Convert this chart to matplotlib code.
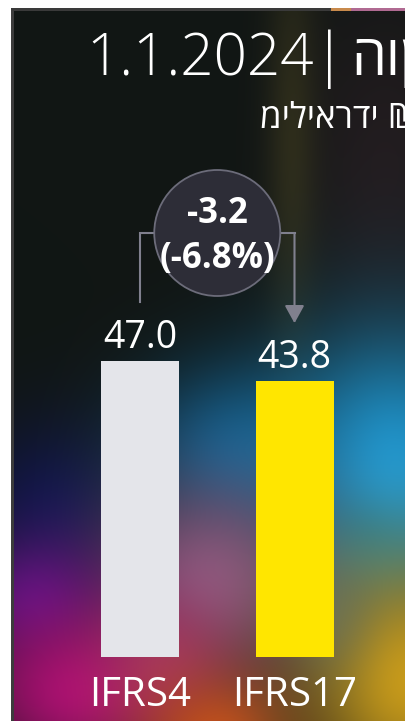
import numpy as np
import matplotlib
matplotlib.use('Agg')
from matplotlib import pyplot as plt
from matplotlib.patches import Ellipse, Rectangle

# data
categories = ['IFRS4', 'IFRS17']
values = [47.0, 43.8]
bar_colors = ['#e4e5ea', '#ffe600']
title_word = 'הון'
title_date = '1.1.2024'
unit_text = 'מיליארדי ₪'

FONT = ['Open Sans', 'DejaVu Sans']
W, H = 405, 721
PX_PER_UNIT = 296 / 47.0


def make_background():
    # blurred colour glow behind the chart (decoration only)
    xs = np.arange(13, W) + 0.5
    ys = np.arange(8, H) + 0.5
    X, Y = np.meshgrid(xs, ys)
    img = np.zeros(X.shape + (3,))
    img[:] = np.array([0x11, 0x16, 0x14]) / 255.0
    blobs = [
        # cx, cy, sx, sy, colour, alpha
        (385, 170, 60, 120, '#2a1f24', 0.7),
        (292, 140, 18, 150, '#3d3a1e', 0.6),
        (50, 510, 55, 60, '#0e1450', 0.85),
        (235, 450, 70, 60, '#0f5f8e', 0.9),
        (395, 470, 80, 100, '#1e96d0', 1.0),
        (360, 545, 40, 30, '#127a90', 0.5),
        (210, 580, 75, 70, '#8e5c82', 0.95),
        (35, 600, 50, 45, '#5a1488', 0.9),
        (80, 690, 80, 60, '#aa0f72', 1.0),
        (160, 660, 45, 45, '#b03c64', 0.7),
        (215, 735, 55, 45, '#c4501c', 0.95),
        (410, 680, 75, 85, '#d0a01a', 0.95),
        (330, 615, 30, 40, '#6c7a62', 0.5),
    ]
    for cx, cy, sx, sy, col, a in blobs:
        c = np.array(matplotlib.colors.to_rgb(col))
        alpha = a * np.exp(-((X - cx) ** 2 / (2 * sx ** 2) + (Y - cy) ** 2 / (2 * sy ** 2)))
        img = img * (1 - alpha[..., None]) + c * alpha[..., None]
    return np.clip(img, 0, 1)


fig = plt.figure(figsize=(W / 100, H / 100), dpi=100)
fig.patch.set_facecolor('white')

bg = fig.add_axes([13 / W, 0, (W - 13) / W, (H - 8) / H])
bg.imshow(make_background(), aspect='auto', interpolation='bilinear')
bg.axis('off')

# panel frame lines
fig.add_artist(Rectangle((11 / W, 0), 3 / W, (H - 8) / H, transform=fig.transFigure,
                         color='#3c3c3c', lw=0))
fig.add_artist(Rectangle((11 / W, (H - 11) / H), 320 / W, 3 / H, transform=fig.transFigure,
                         color='#3a3a3a', lw=0))
fig.add_artist(Rectangle((331 / W, (H - 11) / H), 20 / W, 3 / H, transform=fig.transFigure,
                         color='#c88a4c', lw=0))
fig.add_artist(Rectangle((351 / W, (H - 11) / H), 54 / W, 3 / H, transform=fig.transFigure,
                         color='#b06a92', lw=0))

ax = fig.add_axes([13 / W, 64 / H, (W - 13) / W, (657 - 8) / H])
ax.set_facecolor('none')
ax.set_xlim(-127 / 154.5, (392 - 127) / 154.5)
ax.set_ylim(0, (657 - 8) / PX_PER_UNIT)
ax.axis('off')

x = np.arange(len(categories))
ax.bar(x, values, width=78 / 154.5, color=bar_colors, zorder=3)

for i, v in enumerate(values):
    ax.annotate(f'{v:.1f}', xy=(i, v), xytext=(0, 9.5), textcoords='offset points',
                ha='center', va='baseline', color='white', fontsize=27, family=FONT)
    ax.annotate(categories[i], xy=(i, 0), xytext=(0, -35.3), textcoords='offset points',
                ha='center', va='baseline', color='white', fontsize=29, family=FONT,
                annotation_clip=False)

# change bubble
diff = values[1] - values[0]
pct = diff / values[0] * 100
cy = (657 - 233) / PX_PER_UNIT
rx = 63 / 154.5
ry = 63 / PX_PER_UNIT
line_col = '#80808e'
ax.plot([0, 0, 0.5 - rx], [values[0] + 9.3, cy, cy], color=line_col, lw=1.5, zorder=4,
        solid_joinstyle='miter')
ax.plot([0.5 + rx, 1], [cy, cy], color=line_col, lw=1.5, zorder=4)
ax.annotate('', xy=(1, values[1] + 9.2), xytext=(1, cy),
            arrowprops=dict(arrowstyle='-|>,head_length=0.4,head_width=0.22', color=line_col,
                            lw=1.5, shrinkA=0, shrinkB=0, mutation_scale=27), zorder=4)
ax.add_patch(Ellipse((0.5, cy), 2 * rx, 2 * ry, facecolor='#2d2d37', edgecolor='#6c6c7a',
                     lw=1.3, zorder=5))
ax.text(0.5, (657 - 223.3) / PX_PER_UNIT, f'{diff:.1f}', ha='center', va='baseline',
        color='white', fontsize=25, fontweight='bold', family=FONT, zorder=6)
ax.text(0.5, (657 - 268.3) / PX_PER_UNIT, f'({pct:.1f}%)', ha='center', va='baseline',
        color='white', fontsize=25, fontweight='bold', family=FONT, zorder=6)

# title: it runs past the right edge, as in the source
t1 = fig.text(86 / W, 1 - 75 / H, title_date + '|', ha='left', va='baseline',
              color='white', fontsize=42, fontweight='light', family=FONT)
renderer = fig.canvas.get_renderer()
x_end = t1.get_window_extent(renderer).x1
fig.text((x_end + 6) / W, 1 - 75 / H, title_word, ha='left', va='baseline',
         color='white', fontsize=40, family=FONT)
fig.text(260 / W, 1 - 128 / H, unit_text, ha='left', va='baseline',
         color='white', fontsize=25, family=FONT)

fig.savefig('out.png', dpi=100, facecolor=fig.get_facecolor())
